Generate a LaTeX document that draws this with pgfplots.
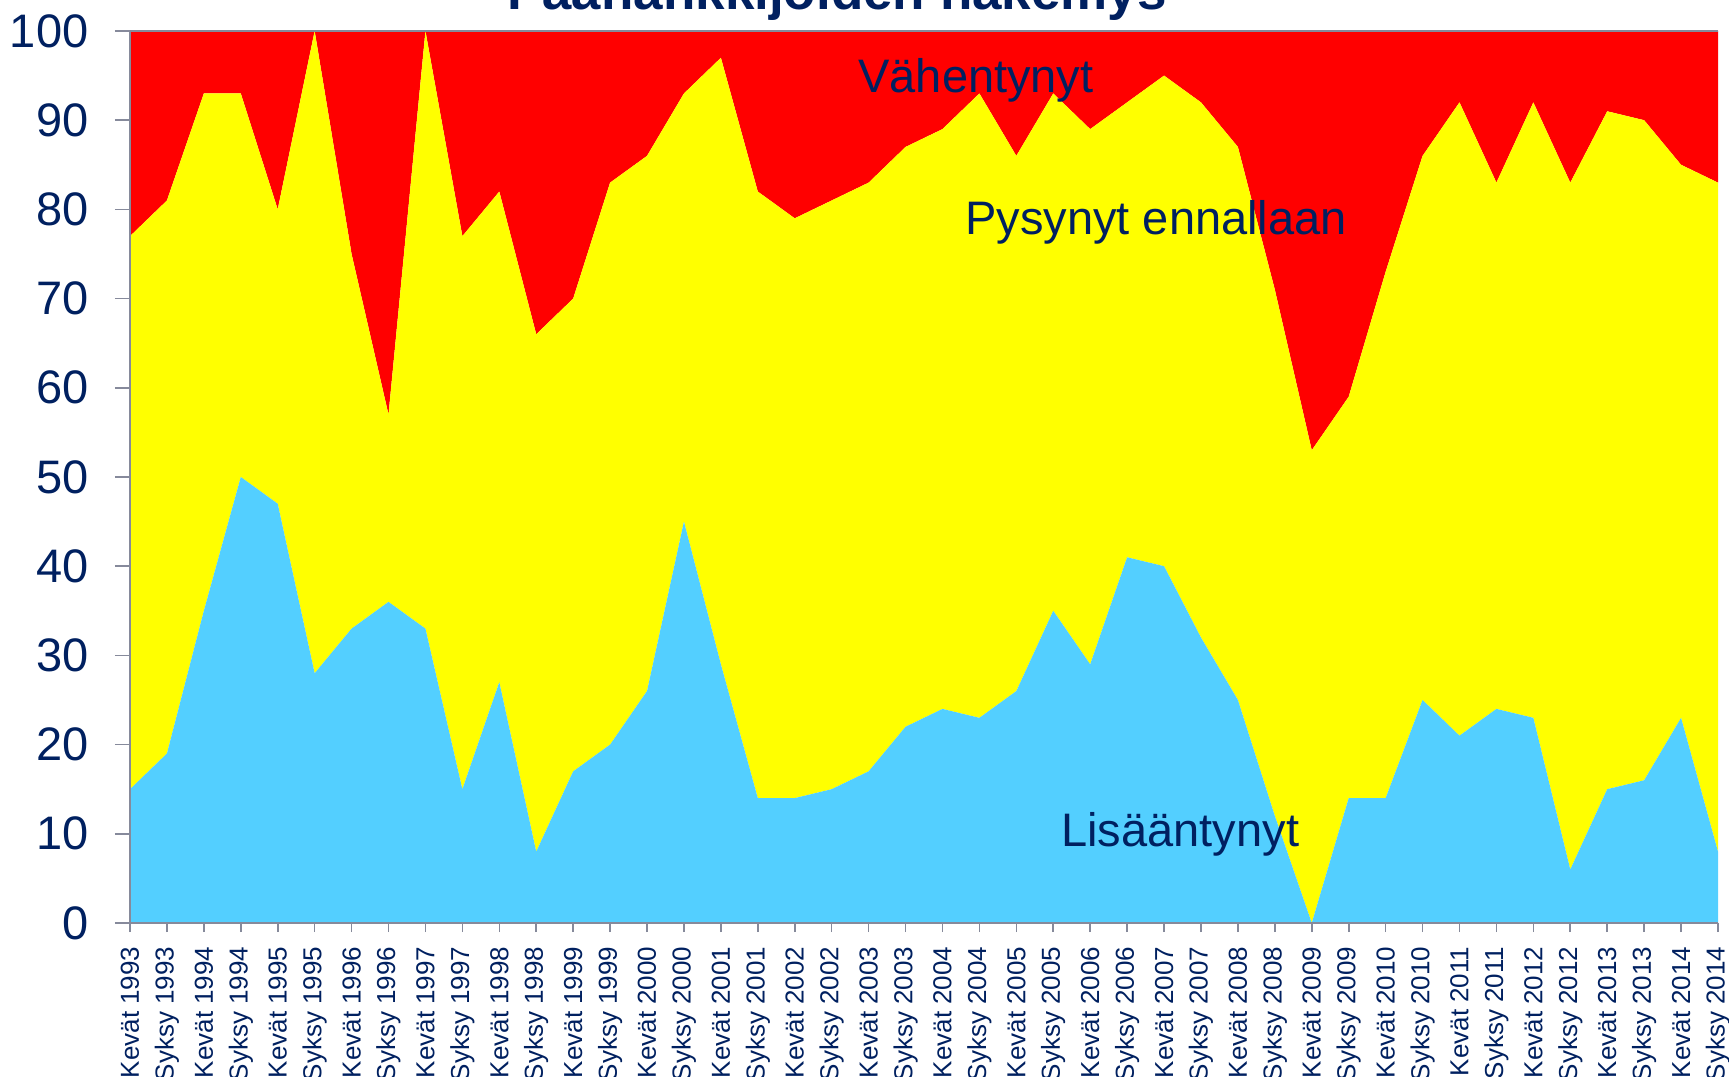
\documentclass[border=0pt]{standalone}
\usepackage{pgfplots}
\usepackage{pgfplotstable}
\pgfplotsset{compat=1.18}
\usepackage{fontspec}
\setmainfont{Liberation Sans}
\definecolor{navy}{RGB}{0,32,96}
\definecolor{axgray}{RGB}{134,138,155}
\definecolor{lblue}{RGB}{83,207,255}
\definecolor{ylw}{RGB}{255,255,0}
\definecolor{rd}{RGB}{255,0,0}

\pgfplotstableread{
i b y r
0 15 62 23
1 19 62 19
2 35 58 7
3 50 43 7
4 47 33 20
5 28 72 0
6 33 42 25
7 36 21 43
8 33 67 0
9 15 62 23
10 27 55 18
11 8 58 34
12 17 53 30
13 20 63 17
14 26 60 14
15 45 48 7
16 29 68 3
17 14 68 18
18 14 65 21
19 15 66 19
20 17 66 17
21 22 65 13
22 24 65 11
23 23 70 7
24 26 60 14
25 35 58 7
26 29 60 11
27 41 51 8
28 40 55 5
29 32 60 8
30 25 62 13
31 12 59 29
32 0 53 47
33 14 45 41
34 14 59 27
35 25 61 14
36 21 71 8
37 24 59 17
38 23 69 8
39 6 77 17
40 15 76 9
41 16 74 10
42 23 62 15
43 8 75 17
}\datatable

\begin{document}
\begin{tikzpicture}
\useasboundingbox (-65pt,-76.5pt) rectangle (799.5pt,461.5pt);
\begin{axis}[
  at={(0,0)}, anchor=south west,
  scale only axis,
  width=794pt, height=446pt,
  xmin=0, xmax=43, ymin=0, ymax=100,
  enlargelimits=false,
  stack plots=y,
  axis on top,
  axis x line*=bottom, axis y line*=left,
  axis line style={axgray, line width=1pt},
  tick align=outside,
  xtick={0,...,43},
  xticklabels={Kevät 1993,Syksy 1993,Kevät 1994,Syksy 1994,Kevät 1995,Syksy 1995,Kevät 1996,Syksy 1996,Kevät 1997,Syksy 1997,Kevät 1998,Syksy 1998,Kevät 1999,Syksy 1999,Kevät 2000,Syksy 2000,Kevät 2001,Syksy 2001,Kevät 2002,Syksy 2002,Kevät 2003,Syksy 2003,Kevät 2004,Syksy 2004,Kevät 2005,Syksy 2005,Kevät 2006,Syksy 2006,Kevät 2007,Syksy 2007,Kevät 2008,Syksy 2008,Kevät 2009,Syksy 2009,Kevät 2010,Syksy 2010,Kevät 2011,Syksy 2011,Kevät 2012,Syksy 2012,Kevät 2013,Syksy 2013,Kevät 2014,Syksy 2014},
  ytick={0,10,...,100},
  xtick style={axgray, line width=0.8pt, /pgfplots/major tick length=4.5pt},
  ytick style={axgray, line width=0.8pt, /pgfplots/major tick length=7.5pt},
  xticklabel style={font=\fontsize{13}{13}\selectfont, color=navy, rotate=90, anchor=east, xshift=-4pt},
  yticklabel style={font=\fontsize{23.5}{23.5}\selectfont, color=navy, xshift=-13pt},
  /pgf/number format/assume math mode=true,
]
\addplot[fill=lblue, draw=none] table[x=i, y=b] {\datatable} \closedcycle;
\addplot[fill=ylw, draw=none] table[x=i, y=y] {\datatable} \closedcycle;
\addplot[fill=rd, draw=none] table[x=i, y=r] {\datatable} \closedcycle;
\end{axis}
\draw[axgray, line width=1pt] (0,446pt) -- (794pt,446pt);
\node[anchor=base west, inner sep=0, color=navy, font=\fontsize{23.5}{23.5}\selectfont] at (364pt,415pt) {Vähentynyt};
\node[anchor=base west, inner sep=0, color=navy, font=\fontsize{23.5}{23.5}\selectfont] at (417.5pt,344pt) {Pysynyt ennallaan};
\node[anchor=base west, inner sep=0, color=navy, font=\fontsize{23.5}{23.5}\selectfont] at (465.5pt,38pt) {Lisääntynyt};
\node[anchor=base, inner sep=0, color=navy, font=\bfseries\fontsize{26.5}{26.5}\selectfont] at (353.5pt,456.5pt) {Päähankkijoiden hakemys};
\end{tikzpicture}
\end{document}
